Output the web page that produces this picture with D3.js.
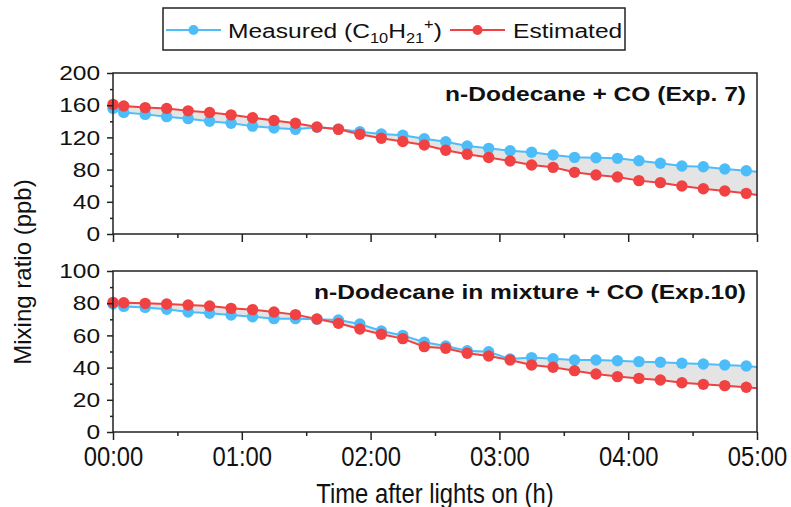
<!DOCTYPE html>
<html lang="en">
<head>
    <meta charset="UTF-8">
    <title>n-Dodecane measured vs estimated</title>
    <script src="https://d3js.org/d3.v7.min.js"></script>
    <style>
        body {
            margin: 0;
            background-color: #fff;
        }
        svg {
            display: block;
        }
        text {
            font-family: "Liberation Sans", Arial, sans-serif;
            fill: #111;
        }
        .domain {
            display: none;
        }
        .tick line {
            stroke: #222;
            stroke-width: 1.5px;
        }
    </style>
</head>
<body>
    <svg width="791" height="507"></svg>
    <script>
        // minutes after lights on
        const minutes = [0, 5, 15, 25, 35, 45, 55, 65, 75, 85, 95, 105, 115, 125, 135, 145,
            155, 165, 175, 185, 195, 205, 215, 225, 235, 245, 255, 265, 275, 285, 295, 305];

        // Exp. 7 : n-Dodecane + CO (ppb)
        const measured7 = [156, 151, 148.6, 145.8, 143.3, 140, 137.5, 134, 131.7, 130, 132.5, 130.4, 127, 124.2, 122.6, 118.4,
            114.7, 109.3, 106.4, 103.5, 101.5, 98.1, 95.2, 94.8, 94, 91, 87.8, 84.5, 83.6, 80.7, 78.6, 76.2];
        const estimated7 = [161, 159, 157, 156, 153, 151, 148, 144.5, 141, 137.5, 133, 130, 124, 119, 115, 110.5,
            104, 99, 95, 90.7, 85.7, 82.8, 76.6, 73.3, 70.8, 66.3, 63.8, 59.6, 56.3, 53.4, 50.5, 46.5];

        // Exp. 10 : n-Dodecane in mixture + CO (ppb)
        const measured10 = [79.5, 78, 77.4, 76.2, 74.5, 73.7, 72.7, 71.6, 70.4, 70.4, 70, 69.6, 67.1, 62.7, 60, 55.7,
            53.4, 50.5, 49.9, 45.3, 46.2, 45.5, 44.7, 44.7, 44.3, 43.7, 43.3, 42.7, 42.2, 41.6, 41, 39.6];
        const estimated10 = [80.5, 80.3, 79.9, 79.5, 78.9, 78.3, 76.8, 76, 74.5, 72.9, 70.2, 67.5, 64, 60.7, 58, 53,
            52, 48.9, 47.2, 44.7, 41.6, 40.2, 38.1, 36, 34.4, 33.3, 32.3, 30.6, 29.6, 28.8, 27.8, 26.5];

        const xTicks = [0, 60, 120, 180, 240, 300];
        const xTickLabels = ["00:00", "01:00", "02:00", "03:00", "04:00", "05:00"];

        const panels = [
            { title: "n-Dodecane + CO (Exp. 7)", measured: measured7, estimated: estimated7,
              yMax: 200, yMajor: [0, 40, 80, 120, 160, 200], yMinor: [20, 60, 100, 140, 180], top: 73, bottom: 234 },
            { title: "n-Dodecane in mixture + CO (Exp.10)", measured: measured10, estimated: estimated10,
              yMax: 100, yMajor: [0, 20, 40, 60, 80, 100], yMinor: [10, 30, 50, 70, 90], top: 271, bottom: 432 }
        ];

        const blue = "#4dbdfa",
            red = "#f04242",
            band = "#e4e4e4";

        const SX = 1.17; // text in the original is a bit wide
        const SY = 1.3;  // ...and the x labels a bit tall
        const left = 113, right = 757;

        const svg = d3.select("svg");

        const x = d3.scaleLinear().domain([0, 300]).range([left, right]);

        panels.forEach((p, i) => {
            const y = d3.scaleLinear().domain([0, p.yMax]).range([p.bottom, p.top]);
            const g = svg.append("g");

            const rows = minutes.map((t, k) => ({ t: t, m: p.measured[k], e: p.estimated[k] }));

            g.append("clipPath").attr("id", "clip" + i)
                .append("rect")
                .attr("x", left).attr("y", p.top)
                .attr("width", right - left).attr("height", p.bottom - p.top);

            const inner = g.append("g").attr("clip-path", `url(#clip${i})`);

            // shaded gap between the two curves
            inner.append("path")
                .datum(rows)
                .attr("fill", band)
                .attr("d", d3.area().x(d => x(d.t)).y0(d => y(d.m)).y1(d => y(d.e)));

            [["m", blue], ["e", red]].forEach(([key, col]) => {
                inner.append("path")
                    .datum(rows)
                    .attr("fill", "none")
                    .attr("stroke", col)
                    .attr("stroke-width", 2)
                    .attr("d", d3.line().x(d => x(d.t)).y(d => y(d[key])));
            });

            [["m", blue], ["e", red]].forEach(([key, col]) => {
                g.append("g")
                    .selectAll("circle")
                    .data(rows.filter(d => d.t <= 300))
                    .enter().append("circle")
                    .attr("cx", d => x(d.t))
                    .attr("cy", d => y(d[key]))
                    .attr("r", 5.7)
                    .attr("fill", col);
            });

            // frame
            g.append("rect")
                .attr("x", left).attr("y", p.top)
                .attr("width", right - left).attr("height", p.bottom - p.top)
                .attr("fill", "none")
                .attr("stroke", "#222")
                .attr("stroke-width", 1.5);

            // y axis, major + minor
            g.append("g")
                .attr("transform", `translate(${left},0)`)
                .call(d3.axisLeft(y).tickValues(p.yMinor).tickSize(3).tickFormat(""));
            const ya = g.append("g")
                .attr("transform", `translate(${left},0)`)
                .call(d3.axisLeft(y).tickValues(p.yMajor).tickSize(6).tickPadding(5));
            ya.selectAll("text")
                .attr("transform", `scale(${SX},1)`)
                .style("font-size", "21px");

            // x axis, major + minor
            g.append("g")
                .attr("transform", `translate(0,${p.bottom})`)
                .call(d3.axisBottom(x).tickValues([30, 90, 150, 210, 270]).tickSize(4).tickFormat(""));
            const xa = g.append("g")
                .attr("transform", `translate(0,${p.bottom})`)
                .call(d3.axisBottom(x).tickValues(xTicks).tickSize(8).tickPadding(3)
                    .tickFormat((d, k) => i === 1 ? xTickLabels[k] : ""));
            xa.selectAll("text")
                .attr("transform", `scale(${SX * 0.97},${SY})`)
                .style("font-size", "21px");

            // panel label
            g.append("text")
                .attr("transform", `translate(746,${p.top + 28}) scale(${SX},1)`)
                .attr("text-anchor", "end")
                .style("font-size", "21px")
                .style("font-weight", "bold")
                .text(p.title);
        });

        // axis titles
        svg.append("text")
            .attr("transform", `translate(${(left + right) / 2},503) scale(${SX * 0.97},${SY})`)
            .attr("text-anchor", "middle")
            .style("font-size", "21px")
            .text("Time after lights on (h)");

        svg.append("text")
            .attr("transform", "translate(31,272) rotate(-90)")
            .attr("text-anchor", "middle")
            .style("font-size", "24px")
            .text("Mixing ratio (ppb)");

        // legend
        const lg = svg.append("g");
        lg.append("rect")
            .attr("x", 163).attr("y", 8)
            .attr("width", 462).attr("height", 42)
            .attr("fill", "#fff")
            .attr("stroke", "#222")
            .attr("stroke-width", 1.5);

        const legendItems = [
            { col: blue, x0: 166, x1: 221 },
            { col: red, x0: 450, x1: 505 }
        ];
        legendItems.forEach(it => {
            lg.append("line")
                .attr("x1", it.x0).attr("x2", it.x1)
                .attr("y1", 30).attr("y2", 30)
                .attr("stroke", it.col).attr("stroke-width", 2);
            lg.append("circle")
                .attr("cx", (it.x0 + it.x1) / 2).attr("cy", 30)
                .attr("r", 5).attr("fill", it.col);
        });

        const t1 = lg.append("text")
            .attr("transform", `translate(228,38) scale(${SX},1)`)
            .style("font-size", "21px");
        t1.append("tspan").text("Measured (C");
        t1.append("tspan").attr("dy", 5).style("font-size", "14px").text("10");
        t1.append("tspan").attr("dy", -5).text("H");
        t1.append("tspan").attr("dy", 5).style("font-size", "14px").text("21");
        t1.append("tspan").attr("dy", -14).style("font-size", "14px").text("+");
        t1.append("tspan").attr("dy", 9).text(")");

        lg.append("text")
            .attr("transform", `translate(513,38) scale(${SX},1)`)
            .style("font-size", "21px")
            .text("Estimated");
    </script>
</body>
</html>
